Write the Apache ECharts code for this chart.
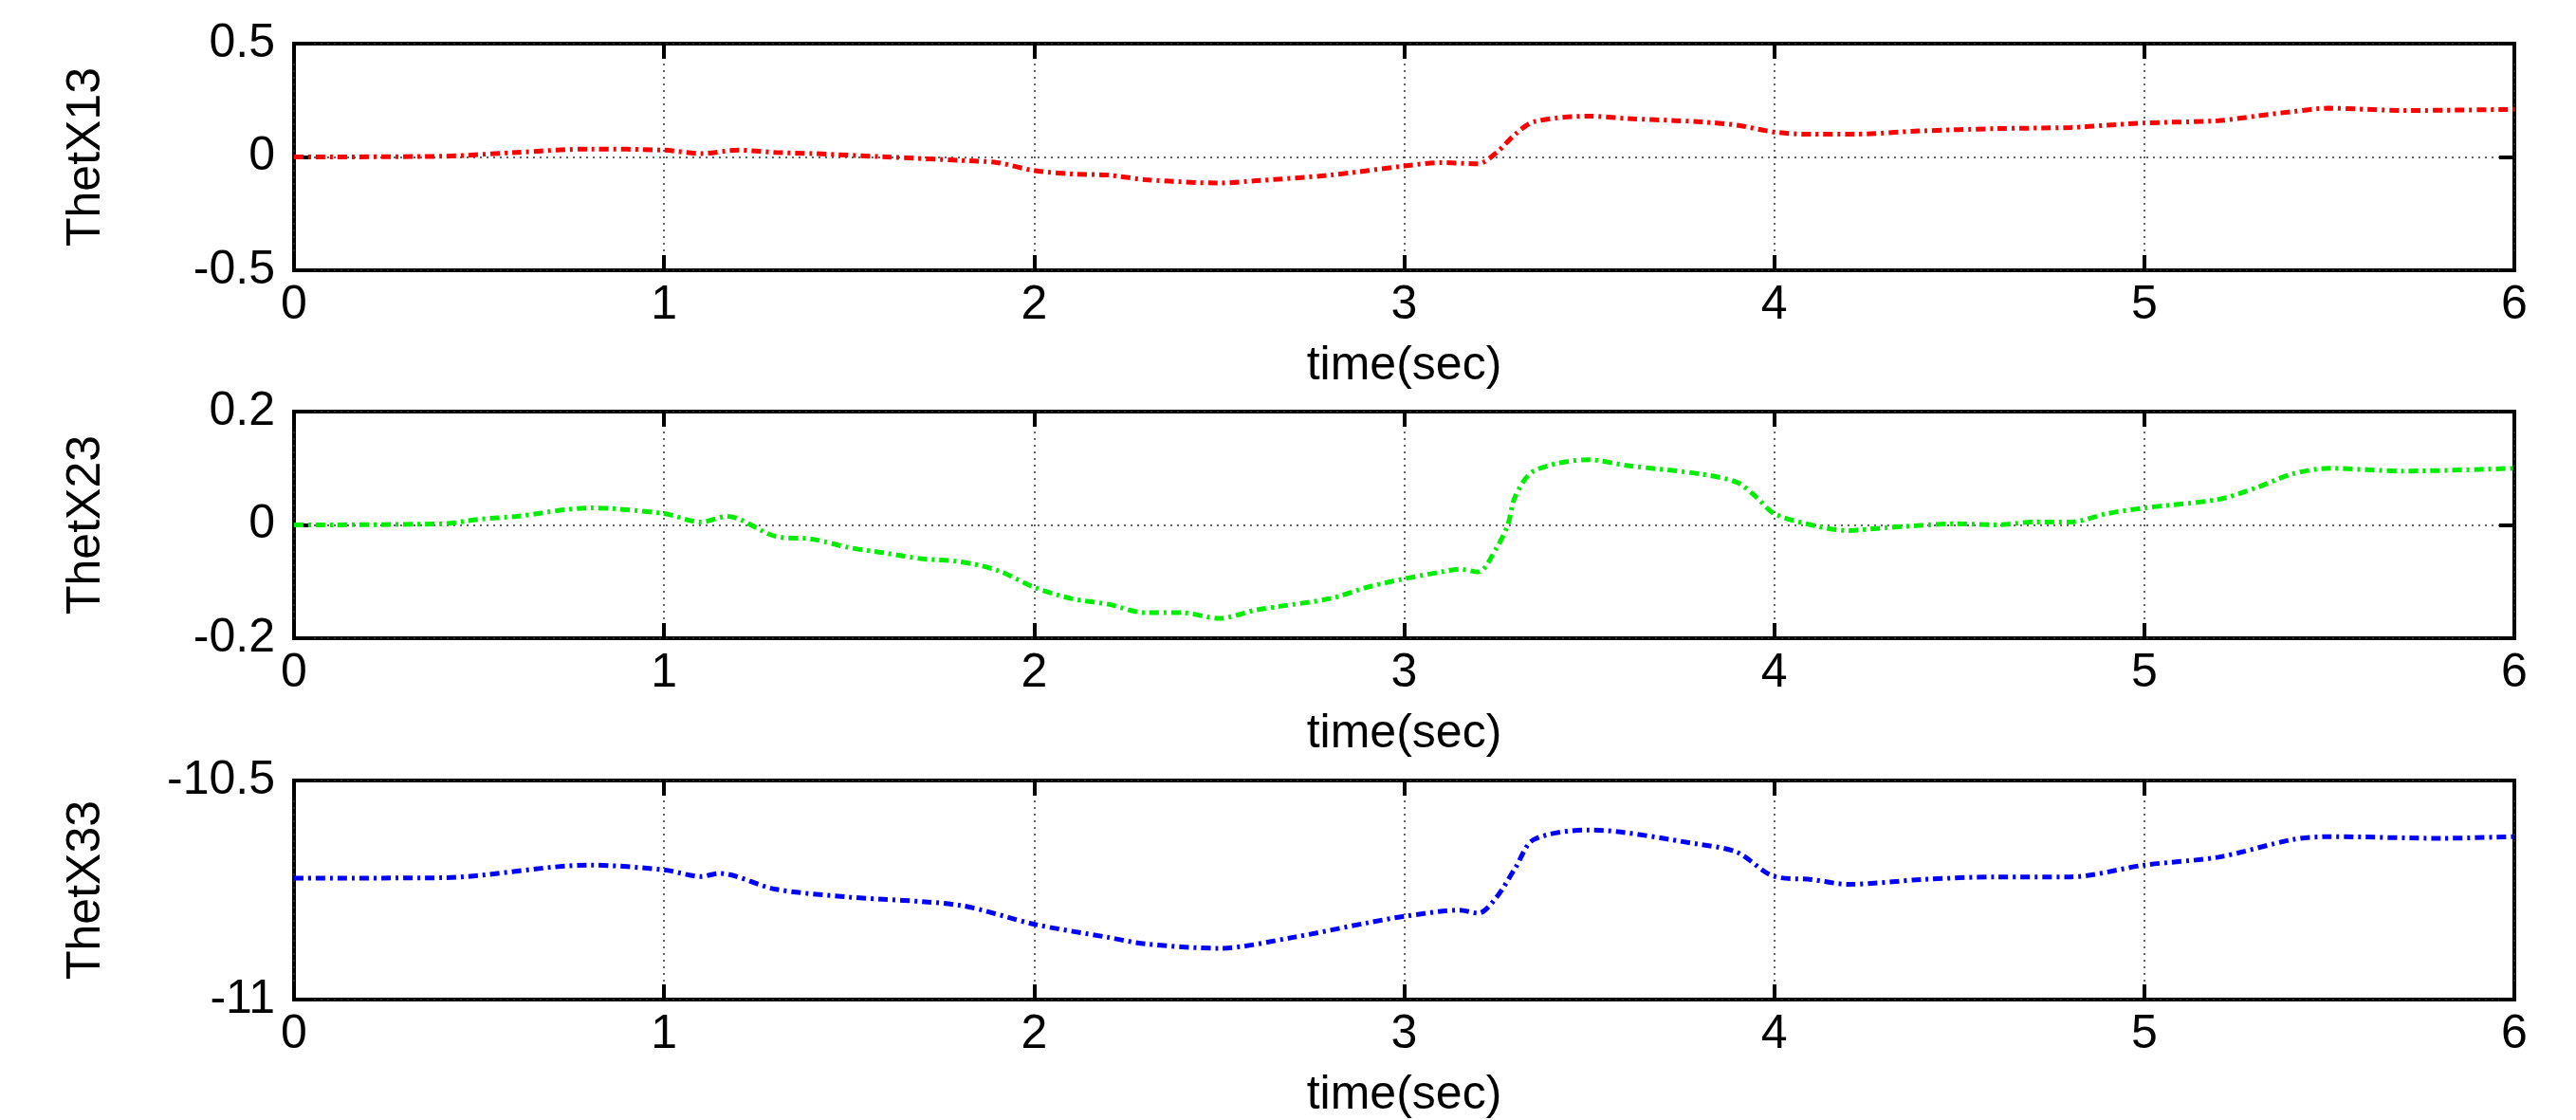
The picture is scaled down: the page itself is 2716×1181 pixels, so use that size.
<!DOCTYPE html>
<html>
<head>
<meta charset="utf-8">
<script src="https://cdn.jsdelivr.net/npm/echarts@6/dist/echarts.min.js"></script>
<style>html,body{margin:0;padding:0;background:#fff}#chart{width:2716px;height:1181px}</style>
</head>
<body>
<div id="chart"></div>
<script>
// time (sec) and signal values
var t1 = [0,0.4,0.6,0.8,1.0,1.1,1.2,1.3,1.4,1.6,1.8,1.9,2.0,2.1,2.2,2.3,2.5,2.6,2.8,3.0,3.1,3.2,3.25,3.3,3.35,3.5,3.6,3.8,3.9,4.0,4.1,4.2,4.4,4.6,4.8,4.9,5.0,5.2,5.3,5.4,5.5,5.7,6.0];
var thetX13 = [0,0.003,0.02,0.035,0.03,0.015,0.03,0.02,0.015,0,-0.015,-0.025,-0.06,-0.075,-0.08,-0.1,-0.115,-0.105,-0.08,-0.04,-0.025,-0.03,0.02,0.1,0.155,0.18,0.17,0.155,0.14,0.11,0.1,0.1,0.115,0.125,0.13,0.14,0.15,0.16,0.18,0.2,0.215,0.205,0.21];

var t2 = [0,0.4,0.5,0.6,0.8,1.0,1.1,1.17,1.3,1.4,1.5,1.6,1.7,1.8,1.9,2.0,2.1,2.2,2.3,2.4,2.5,2.6,2.8,2.9,3.0,3.1,3.15,3.2,3.25,3.28,3.3,3.35,3.5,3.6,3.8,3.9,3.95,4.0,4.1,4.2,4.3,4.5,4.6,4.7,4.8,4.9,5.0,5.2,5.3,5.4,5.5,5.7,6.0];
var thetX23 = [0,0.002,0.01,0.015,0.03,0.02,0.005,0.015,-0.02,-0.025,-0.04,-0.05,-0.06,-0.065,-0.08,-0.11,-0.13,-0.14,-0.155,-0.155,-0.165,-0.15,-0.13,-0.11,-0.095,-0.083,-0.078,-0.083,-0.04,0,0.05,0.095,0.115,0.105,0.09,0.075,0.05,0.02,0,-0.01,-0.005,0.002,0,0.005,0.005,0.02,0.03,0.045,0.065,0.09,0.1,0.095,0.1];

var t3 = [0,0.4,0.8,1.0,1.1,1.15,1.3,1.5,1.8,2.0,2.2,2.3,2.5,2.7,2.9,3.0,3.15,3.2,3.25,3.3,3.35,3.5,3.8,3.9,4.0,4.1,4.2,4.4,4.6,4.8,5.0,5.2,5.4,5.5,5.8,6.0];
var thetX33 = [-10.723,-10.722,-10.693,-10.704,-10.719,-10.712,-10.748,-10.766,-10.785,-10.828,-10.858,-10.873,-10.883,-10.858,-10.825,-10.81,-10.796,-10.803,-10.766,-10.7,-10.635,-10.613,-10.646,-10.664,-10.719,-10.726,-10.737,-10.726,-10.72,-10.72,-10.693,-10.675,-10.635,-10.628,-10.632,-10.628];

var panels = [
  {name: 'ThetX13', x: t1, y: thetX13, color: '#ff0000', min: -0.5, max: 0.5, interval: 0.5, top: 46},
  {name: 'ThetX23', x: t2, y: thetX23, color: '#00ee00', min: -0.2, max: 0.2, interval: 0.2, top: 434},
  {name: 'ThetX33', x: t3, y: thetX33, color: '#0000ff', min: -11, max: -10.5, interval: 0.5, top: 823}
];

var font = 'Liberation Sans, Arial, sans-serif';
var grid = [], xAxis = [], yAxis = [], series = [];
panels.forEach(function (p, i) {
  grid.push({left: 310, right: 65, top: p.top, height: 239, show: true, borderColor: '#000', borderWidth: 4});
  var tick = {show: true, inside: true, length: 16, lineStyle: {color: '#000', width: 4}};
  var dotted = {show: true, lineStyle: {color: '#333', type: [2, 5], width: 1.5}};
  xAxis.push({
    type: 'value', gridIndex: i, min: 0, max: 6, interval: 1, position: 'bottom',
    name: 'time(sec)', nameLocation: 'middle', nameGap: 76,
    nameTextStyle: {fontFamily: font, fontSize: 50, color: '#000'},
    axisLine: {show: false, onZero: false}, axisTick: tick,
    axisLabel: {fontFamily: font, fontSize: 50, color: '#000', margin: 12},
    splitLine: dotted
  });
  xAxis.push({
    type: 'value', gridIndex: i, min: 0, max: 6, interval: 1, position: 'top',
    axisLine: {show: false, onZero: false}, axisTick: tick, axisLabel: {show: false}, splitLine: {show: false}
  });
  yAxis.push({
    type: 'value', gridIndex: i, min: p.min, max: p.max, interval: p.interval, position: 'left',
    name: p.name, nameLocation: 'middle', nameGap: 194, nameRotate: 90,
    nameTextStyle: {fontFamily: font, fontSize: 50, color: '#000'},
    axisLine: {show: false, onZero: false}, axisTick: tick,
    axisLabel: {fontFamily: font, fontSize: 50, color: '#000', margin: 20},
    splitLine: dotted
  });
  yAxis.push({
    type: 'value', gridIndex: i, min: p.min, max: p.max, interval: p.interval, position: 'right',
    axisLine: {show: false, onZero: false}, axisTick: tick, axisLabel: {show: false}, splitLine: {show: false}
  });
  series.push({
    type: 'line', xAxisIndex: i * 2, yAxisIndex: i * 2, showSymbol: false, smooth: 0.3,
    data: p.x.map(function (v, k) { return [v, p.y[k]]; }),
    lineStyle: {color: p.color, width: 5, type: [10, 5, 3, 5]}
  });
});

var chart = echarts.init(document.getElementById('chart'));
chart.setOption({animation: false, backgroundColor: '#fff', grid: grid, xAxis: xAxis, yAxis: yAxis, series: series});
</script>
</body>
</html>
